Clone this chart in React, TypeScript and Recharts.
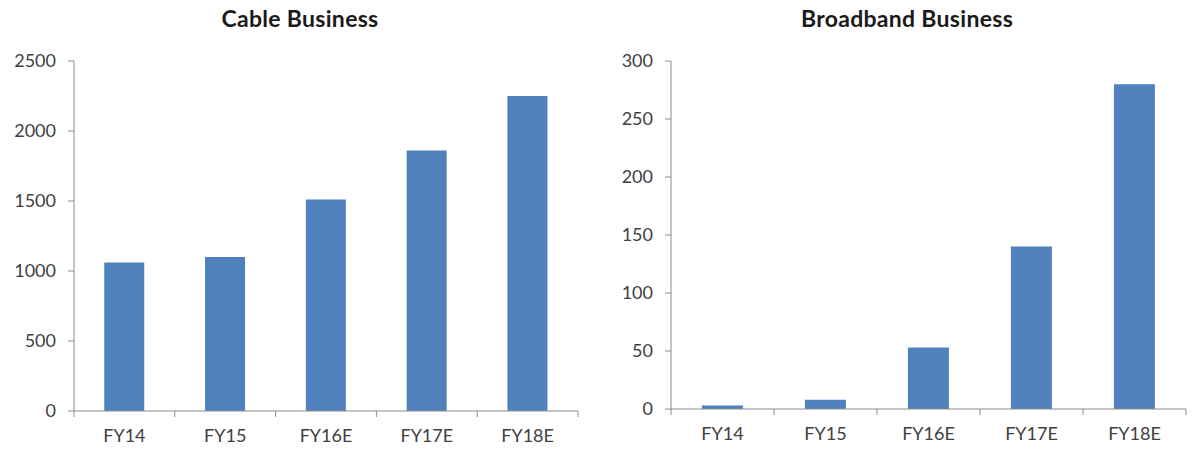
import { Bar, BarChart, XAxis, YAxis } from "recharts";

const categories = ["FY14", "FY15", "FY16E", "FY17E", "FY18E"];
const cableValues = [1060, 1100, 1510, 1860, 2250];
const broadbandValues = [3, 8, 53, 140, 280];
const cableTicks = [0, 500, 1000, 1500, 2000, 2500];
const broadbandTicks = [0, 50, 100, 150, 200, 250, 300];

const BAR_COLOR = "#4f81bd";
const AXIS_COLOR = "#8c8c8c";
const TEXT_COLOR = "#404040";
const FONT = "Lato, 'Open Sans', sans-serif";

// x ticks sit on the category boundaries, like Excel, so draw them by hand
function BoundaryTick(props: any) {
  const { x, y, payload, index, band, count } = props;
  const top = y - 18;
  return (
    <g>
      <line x1={x - band / 2} x2={x - band / 2} y1={top} y2={top + 6} stroke={AXIS_COLOR} />
      {index === count - 1 && (
        <line x1={x + band / 2} x2={x + band / 2} y1={top} y2={top + 6} stroke={AXIS_COLOR} />
      )}
      <text x={x} y={y} dy="0.71em" textAnchor="middle" fill={TEXT_COLOR} fontSize={18} fontFamily={FONT}>
        {payload.value}
      </text>
    </g>
  );
}

type Props = {
  title: string;
  values: number[];
  ticks: number[];
  left: number;
  width: number;
  yWidth: number;
  right: number;
  bottom: number;
  titleX: number;
};

function BusinessChart({ title, values, ticks, left, width, yWidth, right, bottom, titleX }: Props) {
  const data = categories.map((c, i) => ({ name: c, value: values[i] }));
  const band = (width - yWidth - right) / categories.length;

  return (
    <div style={{ position: "absolute", left, top: 0, width, height: 453 }}>
      <div
        style={{
          position: "absolute",
          left: titleX - 150,
          width: 300,
          top: 4,
          textAlign: "center",
          fontFamily: FONT,
          fontWeight: 700,
          fontSize: 23,
          letterSpacing: 0.3,
          color: "#1a1a1a",
        }}
      >
        {title}
      </div>
      <BarChart
        width={width}
        height={453}
        data={data}
        margin={{ top: 61, right, bottom, left: 0 }}
        barCategoryGap="30%"
      >
        <XAxis
          dataKey="name"
          height={30}
          stroke={AXIS_COLOR}
          tickLine={false}
          tickSize={0}
          tickMargin={18}
          interval={0}
          tick={<BoundaryTick band={band} count={categories.length} />}
        />
        <YAxis
          width={yWidth}
          domain={[ticks[0], ticks[ticks.length - 1]]}
          ticks={ticks}
          stroke={AXIS_COLOR}
          tickSize={6}
          tickMargin={12}
          tick={{ fill: TEXT_COLOR, fontSize: 18, fontFamily: FONT }}
        />
        <Bar dataKey="value" fill={BAR_COLOR} isAnimationActive={false} />
      </BarChart>
    </div>
  );
}

export default function App() {
  return (
    <div style={{ position: "absolute", left: 0, top: 0, width: 1194, height: 453, background: "#fff" }}>
      <BusinessChart
        title="Cable Business"
        values={cableValues}
        ticks={cableTicks}
        left={0}
        width={600}
        yWidth={74}
        right={22}
        bottom={12}
        titleX={300}
      />
      <BusinessChart
        title="Broadband Business"
        values={broadbandValues}
        ticks={broadbandTicks}
        left={600}
        width={594}
        yWidth={71}
        right={8}
        bottom={14}
        titleX={307}
      />
    </div>
  );
}
